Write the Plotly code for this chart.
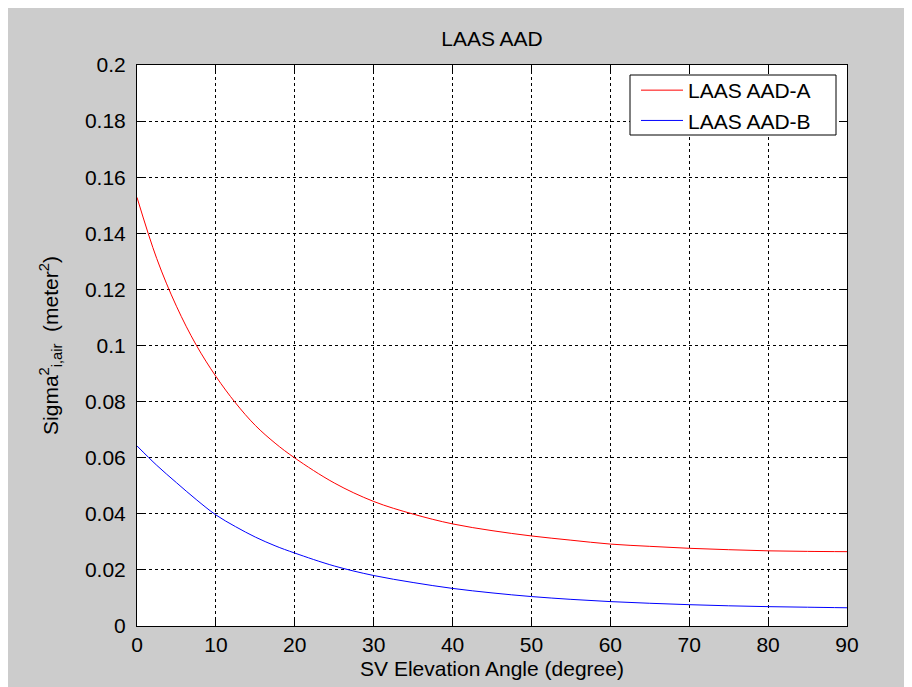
import plotly.graph_objects as go

angles = [0, 2.5, 5, 7.5, 10, 12.5, 15, 17.5, 20, 25, 30, 35, 40, 45, 50, 55, 60, 65, 70, 75, 80, 85, 90]
aad_a = [0.1528, 0.1310, 0.1140, 0.1002, 0.0890, 0.0795, 0.0715, 0.0652, 0.0599, 0.0510,
         0.0444, 0.0399, 0.0364, 0.0340, 0.0321, 0.0306, 0.0292, 0.0284, 0.0277, 0.0272,
         0.0268, 0.0266, 0.0265]
aad_b = [0.0642, 0.0573, 0.0511, 0.0451, 0.0396, 0.0354, 0.0317, 0.0286, 0.0260, 0.0214,
         0.0180, 0.0155, 0.0134, 0.0118, 0.0105, 0.0095, 0.0087, 0.0081, 0.0076, 0.0072,
         0.0069, 0.0067, 0.0065]

x_ticks = [0, 10, 20, 30, 40, 50, 60, 70, 80, 90]
y_ticks = [0, 0.02, 0.04, 0.06, 0.08, 0.1, 0.12, 0.14, 0.16, 0.18, 0.2]
y_tick_text = ["0", "0.02", "0.04", "0.06", "0.08", "0.1", "0.12", "0.14", "0.16", "0.18", "0.2"]

FONT = "Liberation Sans, Arial, sans-serif"
FS = 21

W, H = 912, 687
L, R, T, B = 129, 839, 57, 618


def px_x(p):
    return (p - L) / (R - L)


def px_y(p):
    return (B - p) / (B - T)


fig = go.Figure()
fig.add_trace(go.Scatter(x=angles, y=aad_a, mode="lines", name="LAAS AAD-A",
                         line=dict(color="#ff0000", width=1, shape="spline")))
fig.add_trace(go.Scatter(x=angles, y=aad_b, mode="lines", name="LAAS AAD-B",
                         line=dict(color="#0000ff", width=1, shape="spline")))

axis_common = dict(
    showline=True, linecolor="black", linewidth=1, mirror="ticks",
    ticks="inside", ticklen=7, tickcolor="black", tickwidth=1,
    showgrid=True, gridcolor="black", gridwidth=1, griddash="3px,3px",
    zeroline=False, tickfont=dict(family=FONT, size=FS, color="black"),
)

fig.update_xaxes(range=[0, 90], tickvals=x_ticks, ticktext=[str(t) for t in x_ticks],
                 ticklabelstandoff=0,
                 title=dict(text="SV Elevation Angle (degree)",
                            font=dict(family=FONT, size=FS, color="black"), standoff=6),
                 **axis_common)
fig.update_yaxes(range=[0, 0.2], tickvals=y_ticks, ticktext=y_tick_text,
                 ticklabelstandoff=6,
                 title=dict(text="Sigma<sup>2</sup><sub>i,air</sub>  (meter<sup>2</sup>)",
                            font=dict(family=FONT, size=FS, color="black"), standoff=20),
                 **axis_common)

# legend frame (white box with black border)
fig.add_shape(type="rect", xref="paper", yref="paper",
              x0=px_x(622), x1=px_x(828), y0=px_y(127), y1=px_y(67),
              fillcolor="white", line=dict(color="black", width=1), layer="above")

fig.update_layout(
    width=W, height=H,
    paper_bgcolor="#cccccc", plot_bgcolor="white",
    margin=dict(l=L, r=W - R, t=T, b=H - B, autoexpand=False),
    title=dict(text="LAAS AAD", x=(L + R) / 2 / W, xanchor="center",
               y=1 - 31 / H, yanchor="middle", yref="container",
               font=dict(family=FONT, size=FS, color="black")),
    showlegend=True,
    legend=dict(x=px_x(628), y=px_y(62), xanchor="left", yanchor="top",
                bgcolor="rgba(0,0,0,0)", borderwidth=0, itemwidth=42,
                font=dict(family=FONT, size=FS, color="black"),
                tracegroupgap=0),
    font=dict(family=FONT, color="black"),
)

fig.write_html("out.html")
